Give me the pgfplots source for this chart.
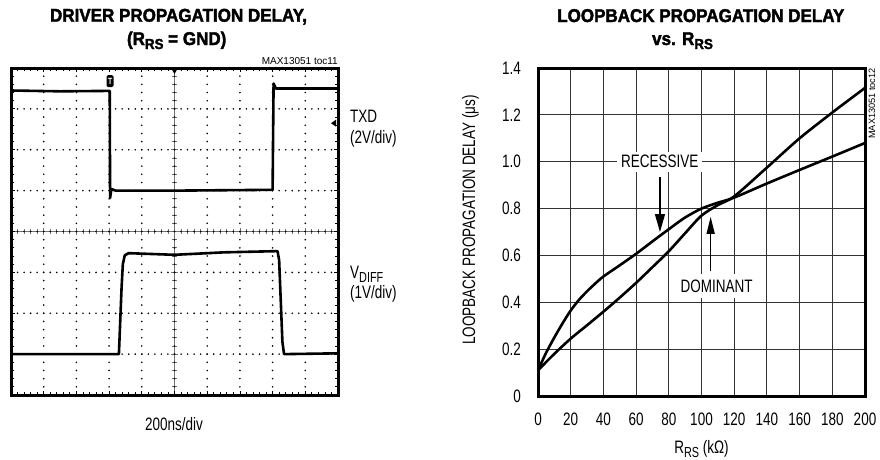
\documentclass[border=0pt]{standalone}
\usepackage{fontspec}
\setmainfont{Liberation Sans}[FakeStretch=0.75]
\newfontfamily\titlefont{Liberation Sans}[FakeStretch=0.92,BoldFeatures={FakeBold=2}]
\newfontfamily\smallfont{Liberation Sans}
\usepackage{pgfplots}
\pgfplotsset{compat=1.18}
\usetikzlibrary{arrows.meta}

\newcommand{\lbl}{\fontsize{18}{20}\selectfont}
\newcommand{\ttl}{\titlefont\bfseries\fontsize{18.5}{21}\selectfont}
\newcommand{\sub}[1]{\raisebox{-4pt}{\fontsize{14.5}{15}\selectfont #1}}

\begin{document}
\begin{tikzpicture}
\path[use as bounding box] (0,0) rectangle (880pt,-459pt);

% ---------- left panel: scope shot ----------
\node[font=\ttl, anchor=base] at (178.5pt,-21.7pt) {DRIVER PROPAGATION DELAY,};
\node[font=\ttl, anchor=base] at (176.7pt,-45pt) {(R\sub{RS} = GND)};
\node[font=\smallfont\fontsize{10}{11}\selectfont, anchor=base east, inner sep=0pt] at (338pt,-64pt) {MAX13051 toc11};

% centre cross with fine ticks
\begin{axis}[at={(11pt,-395pt)}, anchor=south west, width=327pt, height=327pt, scale only axis,
  axis lines=middle, xmin=-5, xmax=5, ymin=-4, ymax=4,
  xtick={-5,...,5}, ytick={-4,...,4}, minor tick num=4, tick align=center,
  major tick length=7pt, minor tick length=5pt,
  xticklabel=\empty, yticklabel=\empty,
  ticklabel style={text opacity=0},
  axis line style={-, black!55, line width=0.8pt},
  tick style={black!55, line width=0.8pt}]
\end{axis}

\begin{axis}[at={(11pt,-395pt)}, anchor=south west, width=327pt, height=327pt, scale only axis,
  xmin=0, xmax=10, ymin=0, ymax=8,
  xtick={0,...,10}, ytick={0,...,8}, minor x tick num=4, minor y tick num=4,
  tick align=inside, major tick length=4pt, minor tick length=3pt,
  xticklabel=\empty, yticklabel=\empty,
  ticklabel style={text opacity=0},
  tick style={black, line width=0.8pt},
  axis line style={line width=3pt},
  grid=major,
  major x grid style={black, line width=1.8pt, line cap=round, dash pattern=on 0pt off 8.175pt},
  major y grid style={black, line width=1.8pt, line cap=round, dash pattern=on 0pt off 6.54pt},
  clip=false]
% TXD
\addplot[black, line width=2.6pt, line join=round] coordinates {
  (0,7.45) (1.5,7.43) (2.98,7.44) (3.02,7.44) (3.03,4.82) (3.07,5.04) (3.2,5.0)
  (5,5.0) (7.98,5.02) (8.0,5.02) (8.03,7.62) (8.1,7.5) (10,7.5)};
% VDIFF
\addplot[black, line width=2.6pt, line join=round] coordinates {
  (0,1.0) (3.30,1.0) (3.33,1.6) (3.38,2.6) (3.42,3.2) (3.48,3.42) (3.6,3.47)
  (5,3.43) (6.5,3.49) (8.15,3.52) (8.2,3.3) (8.3,1.3) (8.35,1.0) (10,1.02)};
\node[fill=black, text=white, inner sep=0pt, minimum width=7pt, minimum height=12pt,
  rounded corners=1.5pt, font=\bfseries\fontsize{9}{9}\selectfont] at (axis cs:3.03,7.68) {T};
\fill (axis cs:5,8) ++(-3.5pt,0) -- ++(7pt,0) -- ++(-3.5pt,-6pt) -- cycle;
\fill (axis cs:10,6.65) ++(-7pt,0) -- ++(5pt,3.5pt) -- ++(0,-7pt) -- cycle;
\end{axis}

\node[anchor=base west, font=\lbl, inner sep=0pt] at (350pt,-122pt) {TXD};
\node[anchor=base west, font=\lbl, inner sep=0pt] at (350pt,-143pt) {(2V/div)};
\node[anchor=base west, font=\lbl, inner sep=0pt] at (350pt,-278pt) {V\sub{DIFF}};
\node[anchor=base west, font=\lbl, inner sep=0pt] at (350pt,-298pt) {(1V/div)};
\node[anchor=base, font=\lbl, inner sep=0pt] at (174pt,-430pt) {200ns/div};

% ---------- right panel: loopback delay ----------
\node[font=\ttl, anchor=base] at (700.8pt,-22pt) {LOOPBACK PROPAGATION DELAY};
\node[font=\ttl, anchor=base] at (682.5pt,-45pt) {vs. R\sub{RS}};
\node[font=\smallfont\fontsize{9.2}{10}\selectfont, rotate=90, anchor=base east, inner sep=0pt] at (875pt,-68pt) {MAX13051 toc12};

\begin{axis}[at={(538pt,-396pt)}, anchor=south west, width=327pt, height=328pt, scale only axis,
  xmin=0, xmax=200, ymin=0, ymax=1.4,
  xtick={0,20,...,200}, ytick={0,0.2,0.4,0.6,0.8,1.0,1.2,1.4},
  xticklabels={0,20,40,60,80,100,120,140,160,180,200},
  yticklabels={0,0.2,0.4,0.6,0.8,1.0,1.2,1.4},
  grid=major, major grid style={black!80, line width=1pt},
  axis line style={line width=3pt},
  major tick length=0pt, tick style={draw=none},
  ticklabel style={font=\lbl, inner sep=0pt},
  yticklabel style={anchor=east, xshift=-17pt},
  xticklabel style={anchor=north, yshift=-17pt},
  xlabel={R\sub{RS} (kΩ)},
  ylabel={LOOPBACK PROPAGATION DELAY (μs)},
  label style={font=\lbl, inner sep=0pt},
  xlabel style={at={([yshift=-57pt]axis description cs:0.5,0)}, anchor=base},
  ylabel style={at={([xshift=-63pt,yshift=12pt]axis description cs:0,0.5)}, anchor=base},
  clip=false]
% RECESSIVE
\addplot[black, line width=2.6pt, smooth] coordinates {
  (0,0.11) (5,0.185) (10,0.25) (15,0.31) (20,0.365) (25,0.41) (30,0.447) (35,0.48)
  (40,0.51) (50,0.558) (60,0.607) (70,0.66) (80,0.712) (90,0.762) (100,0.80)
  (110,0.825) (120,0.847) (140,0.907) (160,0.965) (180,1.022) (200,1.08)};
% DOMINANT
\addplot[black, line width=2.6pt, smooth] coordinates {
  (0,0.11) (10,0.18) (20,0.245) (30,0.302) (40,0.36) (50,0.42) (60,0.483)
  (70,0.55) (80,0.618) (90,0.695) (100,0.77) (110,0.815) (120,0.852)
  (140,0.975) (160,1.10) (180,1.21) (200,1.315)};
\node[fill=white, inner xsep=4pt, inner ysep=3.5pt, font=\lbl] at (axis cs:74.4,1.0) {RECESSIVE};
\draw[black, line width=1.3pt, -{Triangle[length=18pt,width=10pt]}] (axis cs:74.6,0.935) -- (axis cs:74.6,0.70);
\node[fill=white, inner xsep=4pt, inner ysep=6pt, font=\lbl] at (axis cs:109.3,0.47) {DOMINANT};
\draw[black, line width=1.3pt, -{Triangle[length=17pt,width=8pt]}] (axis cs:105.6,0.535) -- (axis cs:105.6,0.765);
\end{axis}
\end{tikzpicture}
\end{document}
